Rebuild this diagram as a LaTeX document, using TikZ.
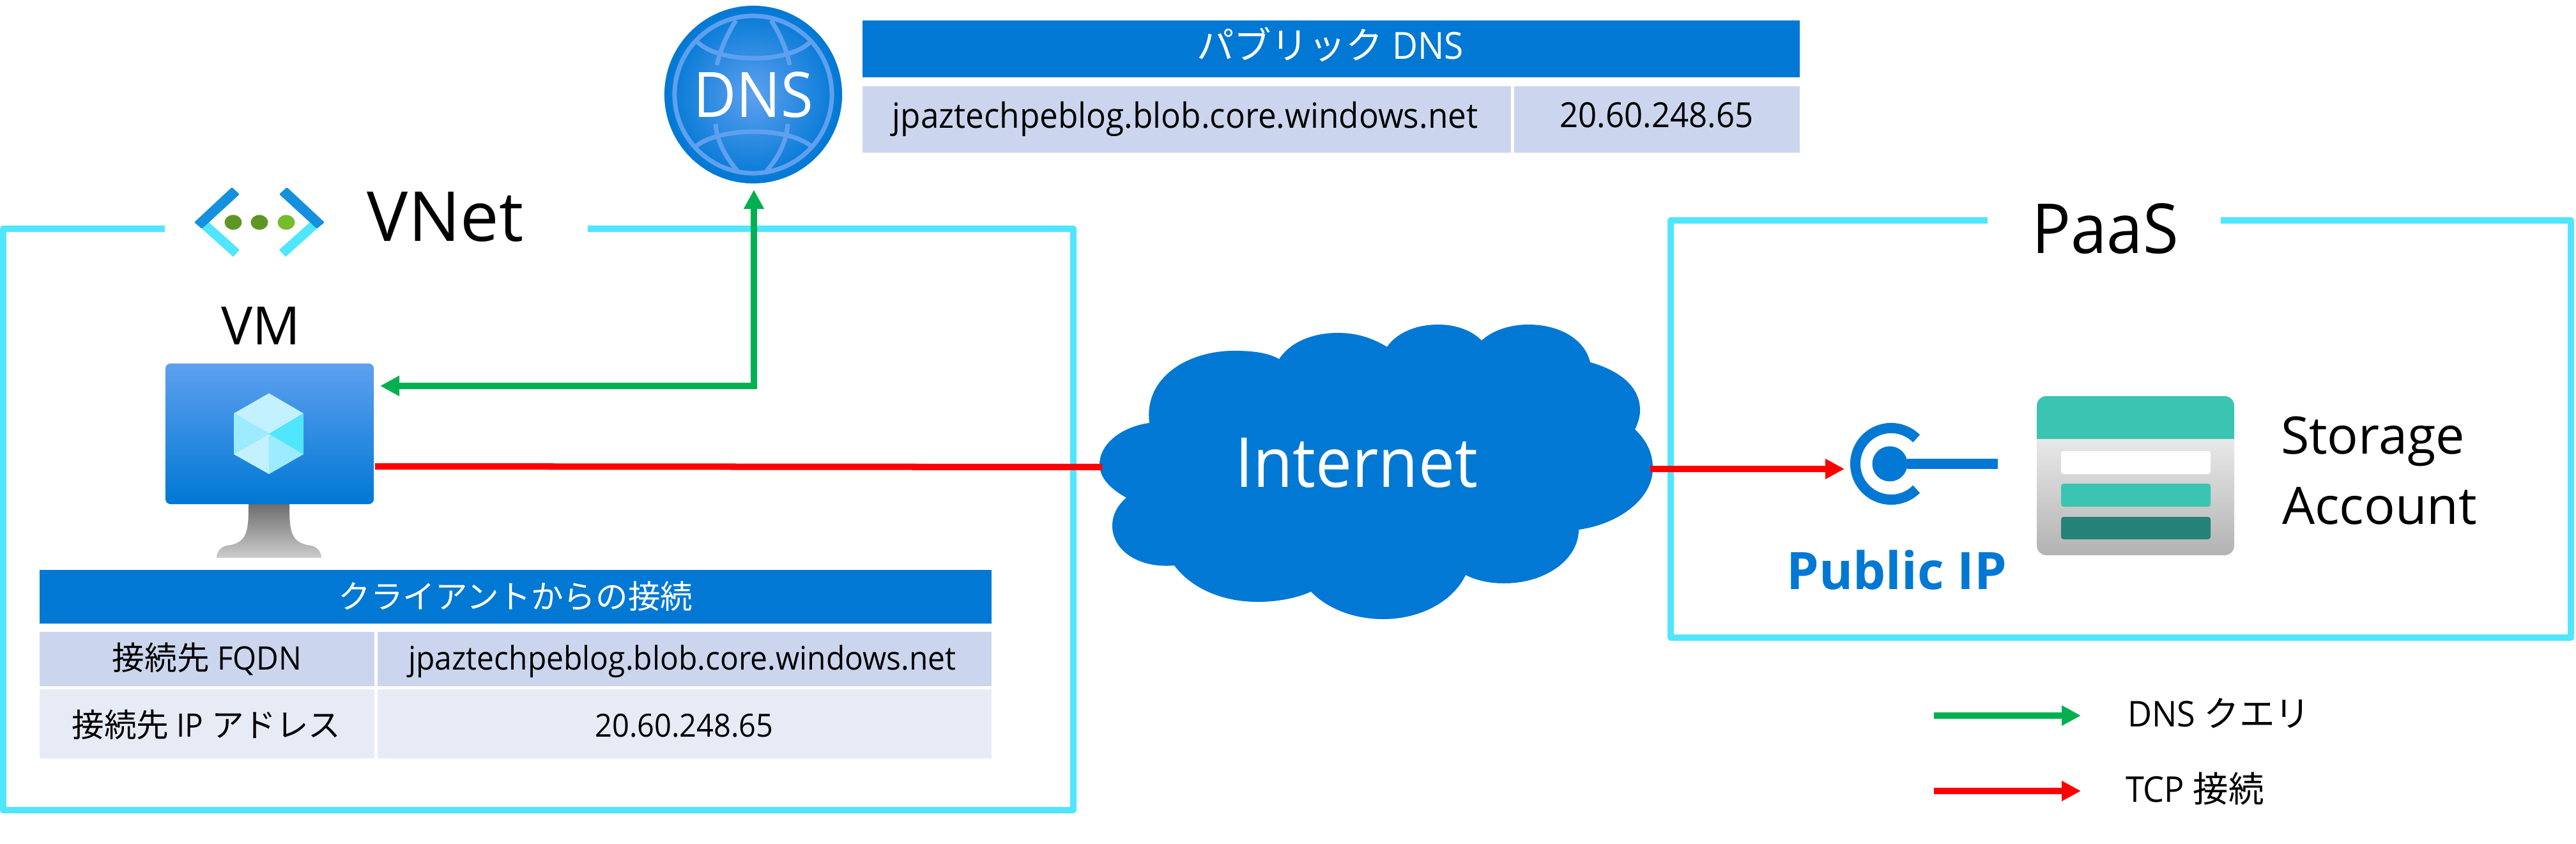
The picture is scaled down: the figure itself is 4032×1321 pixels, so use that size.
\documentclass[tikz,border=0pt]{standalone}
\usepackage{fontspec}
\usetikzlibrary{arrows.meta,calc}
\setmainfont[FakeStretch=0.94]{Open Sans}
\newfontfamily\wide{Open Sans}
\newfontfamily\jp{Noto Sans CJK JP}
\definecolor{azure}{HTML}{0078D4}
\definecolor{cyanline}{HTML}{50E6FF}
\definecolor{rowa}{HTML}{CBD6EE}
\definecolor{rowb}{HTML}{E7EBF6}
\definecolor{ltblue}{HTML}{5EA0EF}
\definecolor{teal}{HTML}{3BC4B2}
\definecolor{dkteal}{HTML}{258277}
\definecolor{okgreen}{HTML}{00B050}
\newcommand{\fs}[1]{\fontsize{#1}{#1}\selectfont}
\tikzset{
  lbl/.style={inner sep=0pt,outer sep=0pt,anchor=base},
  boxline/.style={draw=cyanline,line width=0.1cm,line join=round},
  dnsconn/.style={draw=okgreen,line width=0.1cm,-{Triangle[length=0.3cm,width=0.3cm]}},
  tcpconn/.style={draw=red,line width=0.1cm},
  tcparrow/.style={tcpconn,-{Triangle[length=0.3cm,width=0.3cm]}},
  globeline/.style={draw=ltblue,line width=0.07cm},
}
\begin{document}
\begin{tikzpicture}[x=0.01cm,y=-0.01cm]
\useasboundingbox (0,0) rectangle (4032,1321);
% frames
\draw[boxline] (258,358) -- (5,358) -- (5,1268) -- (1680,1268) -- (1680,358) -- (920,358);
\draw[boxline] (3111,345) -- (2615,345) -- (2615,998) -- (4024,998) -- (4024,345) -- (3476,345);
% top table
\fill[azure] (1350,32) rectangle (2817,121);
\fill[rowa] (1350,135) rectangle (2365,239);
\fill[rowa] (2370,135) rectangle (2817,239);
\node[lbl,text=white] (pubdns) at (2082,93) {\fs{16.6}{\jp パブリック} DNS};
\node[lbl] (pubfqdn) at (1855,200) {\fs{15.5}jpaztechpeblog.blob.core.windows.net};
\node[lbl] (pubip) at (2593,199) {\fs{15.4}20.60.248.65};
% DNS icon
\node[circle,minimum size=2.78cm,inner sep=0pt,outer sep=0pt,inner color=ltblue,outer color=azure] (dns) at (1179,148) {};
\draw[globeline] (dns.center) circle[radius=1.23cm];
\draw[globeline] (1091,65) .. controls (1125,100) and (1235,100) .. (1269,65);
\draw[globeline] (1088,230) .. controls (1125,198) and (1235,198) .. (1271,230);
\draw[globeline] (1152,32) .. controls (1137,55) and (1127,80) .. (1122,102);
\draw[globeline] (1207,32) .. controls (1222,55) and (1232,80) .. (1236,102);
\draw[globeline] (1120,194) .. controls (1122,220) and (1135,245) .. (1154,267);
\draw[globeline] (1233,194) .. controls (1231,220) and (1220,245) .. (1200,267);
\node[lbl,text=white] (dnstxt) at (1179,183) {\fs{27.9}DNS};
% VNet icon
\fill[cyanline] (316,358) -- (327,348) -- (375,391) -- (365,402) -- cycle;
\fill[cyanline] (496,358) -- (485,348) -- (437,391) -- (447,402) -- cycle;
\fill[rounded corners=0.015cm,color={rgb,255:red,20;green,144;blue,223}] (363,293) -- (375,304) -- (327,348) -- (316,358) -- (304,348) -- cycle;
\fill[rounded corners=0.015cm,color={rgb,255:red,20;green,144;blue,223}] (449,293) -- (437,304) -- (485,348) -- (496,358) -- (508,348) -- cycle;
\fill[color={rgb,255:red,94;green,150;blue,36}] (365,348) ellipse[x radius=13.5,y radius=11.6];
\fill[color={rgb,255:red,94;green,150;blue,36}] (406,348) ellipse[x radius=13.5,y radius=11.6];
\fill[color={rgb,255:red,118;green,188;blue,45}] (448,348) ellipse[x radius=13.5,y radius=11.6];
\node[lbl] (vnet) at (697,377) {\fs{30.7}\wide VNet};
\node[lbl] (paas) at (3295,396) {\fs{30.7}PaaS};
% VM
\node[lbl] (vmlbl) at (408,539) {\fs{23.5}\wide VM};
\path[top color=black!57,bottom color=black!20] (389,789) .. controls (389,830) and (388,850) .. (355,854) .. controls (345,856) and (339,864) .. (339,873) -- (503,873) .. controls (503,864) and (497,856) .. (487,854) .. controls (454,850) and (453,830) .. (453,789) -- cycle;
\node[rectangle,rounded corners=0.08cm,minimum width=3.26cm,minimum height=2.2cm,inner sep=0pt,outer sep=0pt,top color=ltblue,bottom color=azure] (vm) at (422,679) {};
\fill[color={rgb,255:red,195;green,241;blue,255}] (421,615.5) -- (475,647) -- (421,679) -- (366,647) -- cycle;
\fill[color={rgb,255:red,156;green,235;blue,255}] (366,647) -- (421,679) -- (366,711) -- cycle;
\fill[cyanline] (475,647) -- (421,679) -- (475,711) -- cycle;
\fill[color={rgb,255:red,195;green,241;blue,255}] (366,711) -- (421,679) -- (421,742) -- cycle;
\fill[color={rgb,255:red,156;green,235;blue,255}] (475,711) -- (421,679) -- (421,742) -- cycle;
% client table
\fill[azure] (62,892) rectangle (1552,976);
\fill[rowa] (62,989) rectangle (586,1074);
\fill[rowa] (591,989) rectangle (1552,1074);
\fill[rowb] (62,1079) rectangle (586,1187);
\fill[rowb] (591,1079) rectangle (1552,1187);
\node[lbl,text=white] (clienthdr) at (807,952) {\fs{14.4}\jp クライアントからの接続};
\node[lbl] (fqdnkey) at (324,1048) {\fs{14.4}{\jp 接続先} FQDN};
\node[lbl] (fqdnval) at (1068,1048) {\fs{14.5}jpaztechpeblog.blob.core.windows.net};
\node[lbl] (ipkey) at (323,1153) {\fs{14.4}{\jp 接続先} IP {\jp アドレス}};
\node[lbl] (ipval) at (1071,1153) {\fs{14.2}20.60.248.65};
% cloud
\fill[azure] (1799,662) .. controls (1790,590) and (1860,549) .. (1932,549) .. controls (1960,549) and (1985,552) .. (2002,562)
 .. controls (2020,535) and (2055,521) .. (2094,521) .. controls (2125,521) and (2150,530) .. (2171,543)
 .. controls (2185,522) and (2215,508) .. (2251,508) .. controls (2280,508) and (2305,518) .. (2319,533)
 .. controls (2335,518) and (2362,508) .. (2392,508) .. controls (2440,508) and (2480,530) .. (2489,567)
 .. controls (2535,580) and (2567,605) .. (2567,642) .. controls (2567,652) and (2564,662) .. (2559,672)
 .. controls (2578,690) and (2587,710) .. (2587,733) .. controls (2587,780) and (2535,820) .. (2471,829)
 .. controls (2471,875) and (2420,913) .. (2354,913) .. controls (2330,913) and (2310,908) .. (2294,900)
 .. controls (2275,940) and (2225,969) .. (2165,969) .. controls (2115,969) and (2075,950) .. (2052,926)
 .. controls (2030,936) and (2000,942) .. (1969,942) .. controls (1905,942) and (1860,915) .. (1838,885)
 .. controls (1780,890) and (1741,860) .. (1741,823) .. controls (1741,805) and (1750,790) .. (1763,779)
 .. controls (1738,765) and (1721,748) .. (1721,727) .. controls (1721,695) and (1755,668) .. (1799,662) -- cycle;
\node[lbl,text=white] (internet) at (2123,762) {\fs{30.7}Internet};
% public IP
\node[circle,fill=azure,minimum size=0.55cm,inner sep=0pt,outer sep=0pt] (pipdot) at (2958,726) {};
\fill[azure] (2985,718) rectangle (3127,734);
\draw[azure,line width=0.16cm] (2960,726) ++(45:0.56cm) arc[start angle=45,end angle=315,radius=0.56cm];
\node[lbl,text=azure] (piptxt) at (2969,922) {\fs{23}\wide\bfseries Public IP};
% storage
\path[top color=black!9,bottom color=black!30] (3188,687) [rounded corners=0.15cm] -- (3188,869) -- (3497,869) [sharp corners] -- (3497,687) -- cycle;
\fill[teal] (3188,687) [rounded corners=0.15cm] -- (3188,620) -- (3497,620) [sharp corners] -- (3497,687) -- cycle;
\fill[white,rounded corners=0.04cm] (3226,706) rectangle (3460,742);
\fill[teal,rounded corners=0.04cm] (3226,757) rectangle (3460,793);
\fill[dkteal,rounded corners=0.04cm] (3226,809) rectangle (3460,844);
\node[lbl,anchor=base west] (sa1) at (3570,710) {\fs{23}\wide Storage};
\node[lbl,anchor=base west] (sa2) at (3572,820) {\fs{23}\wide Account};
% connectors
\coordinate (dnsport) at (1180,297);
\coordinate (vmdnsport) at (595,604);
\coordinate (vmtcp) at (587,730);
\coordinate (cloudl) at (1725,731);
\coordinate (cloudr) at (2583,734);
\coordinate (pipport) at (2887,734);
\draw[dnsconn,{Triangle[length=0.3cm,width=0.3cm]}-{Triangle[length=0.3cm,width=0.3cm]},line join=miter] (dnsport) |- (vmdnsport);
\draw[tcpconn] (vmtcp) -- (cloudl);
\draw[tcparrow] (cloudr) -- (pipport);
% legend
\coordinate (lga) at (3027,1120); \coordinate (lgb) at (3257,1120);
\coordinate (lgc) at (3027,1238); \coordinate (lgd) at (3257,1238);
\draw[dnsconn] (lga) -- (lgb);
\draw[tcparrow] (lgc) -- (lgd);
\node[lbl,anchor=base west] (lgt1) at (3330,1137) {\fs{15.8}DNS {\jp クエリ}};
\node[lbl,anchor=base west] (lgt2) at (3327,1255) {\fs{15.8}TCP {\jp 接続}};
\end{tikzpicture}
\end{document}
